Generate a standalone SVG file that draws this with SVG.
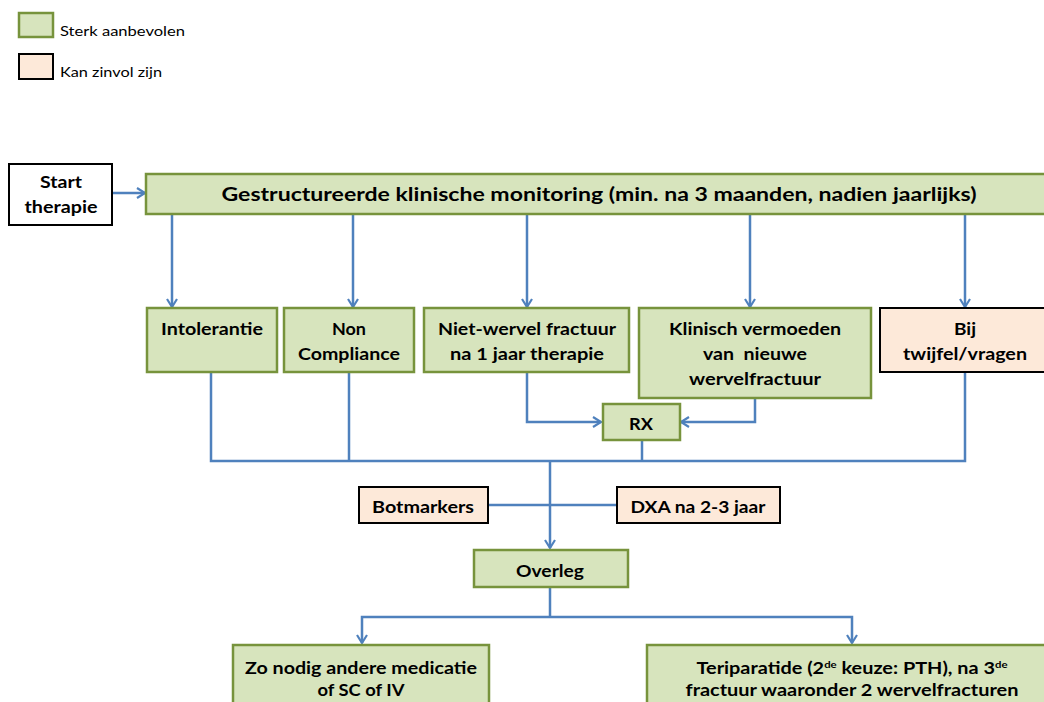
<svg xmlns="http://www.w3.org/2000/svg" width="1044" height="702" viewBox="0 0 1044 702">
<style>
.g{fill:#D7E4BD;stroke:#77933C;stroke-width:2.5}
.p{fill:#FDE9D9;stroke:#000;stroke-width:2}
.w{fill:#fff;stroke:#000;stroke-width:2}
.t{font-family:Lato,"Liberation Sans",sans-serif;font-weight:bold;font-size:17.5px;fill:#000;text-anchor:middle}
.l{font-family:Lato,"Liberation Sans",sans-serif;font-size:14px;fill:#000}
.c{fill:none;stroke:#4F81BD;stroke-width:2.5}
</style>
<defs>
<marker id="a" markerUnits="userSpaceOnUse" markerWidth="14" markerHeight="14" refX="9" refY="6" orient="auto">
<path d="M1,1 L9,6 L1,11" fill="none" stroke="#4F81BD" stroke-width="2.2"/>
</marker>
</defs>
<rect width="1044" height="702" fill="#fff"/>
<g id="legend">
<rect class="g" x="19" y="13" width="34" height="24"/>
<text class="l" x="60" y="36" textLength="125" lengthAdjust="spacingAndGlyphs">Sterk aanbevolen</text>
<rect class="p" x="19" y="54" width="34" height="25"/>
<text class="l" x="60" y="77" textLength="102" lengthAdjust="spacingAndGlyphs">Kan zinvol zijn</text>
</g>
<g id="connectors">
<path class="c" d="M112,193 H145" marker-end="url(#a)"/>
<path class="c" d="M172,214 V307" marker-end="url(#a)"/>
<path class="c" d="M353,214 V307" marker-end="url(#a)"/>
<path class="c" d="M527,214 V307" marker-end="url(#a)"/>
<path class="c" d="M750,214 V307" marker-end="url(#a)"/>
<path class="c" d="M965,214 V307" marker-end="url(#a)"/>
<path class="c" d="M527,372 V422 H601" marker-end="url(#a)"/>
<path class="c" d="M755,398 V422 H681" marker-end="url(#a)"/>
<path class="c" d="M211,372 V461 H965 V372"/>
<path class="c" d="M349,372 V461"/>
<path class="c" d="M642,440 V461"/>
<path class="c" d="M550,461 V548" marker-end="url(#a)"/>
<path class="c" d="M488,505 H617"/>
<path class="c" d="M550,587 V617"/>
<path class="c" d="M550,617 H362 V643" marker-end="url(#a)"/>
<path class="c" d="M550,617 H852 V643" marker-end="url(#a)"/>
</g>
<g id="start">
<rect class="w" x="9" y="164" width="103" height="61"/>
<text class="t" x="61" y="188" textLength="42" lengthAdjust="spacingAndGlyphs">Start</text>
<text class="t" x="61" y="213" textLength="73" lengthAdjust="spacingAndGlyphs">therapie</text>
</g>
<g id="monitoring">
<rect class="g" x="146" y="174" width="910" height="40"/>
<text class="t" x="599" y="201" style="font-size:19px" textLength="755" lengthAdjust="spacingAndGlyphs">Gestructureerde klinische monitoring (min. na 3 maanden, nadien jaarlijks)</text>
</g>
<g id="intolerantie">
<rect class="g" x="147" y="308" width="130" height="64"/>
<text class="t" x="212" y="335" textLength="102" lengthAdjust="spacingAndGlyphs">Intolerantie</text>
</g>
<g id="noncompliance">
<rect class="g" x="284" y="308" width="130" height="64"/>
<text class="t" x="349" y="335" textLength="34" lengthAdjust="spacingAndGlyphs">Non</text>
<text class="t" x="349" y="360" textLength="102" lengthAdjust="spacingAndGlyphs">Compliance</text>
</g>
<g id="nietwervel">
<rect class="g" x="424" y="308" width="205" height="64"/>
<text class="t" x="527" y="335" textLength="178" lengthAdjust="spacingAndGlyphs">Niet-wervel fractuur</text>
<text class="t" x="527" y="360" textLength="154" lengthAdjust="spacingAndGlyphs">na 1 jaar therapie</text>
</g>
<g id="klinisch">
<rect class="g" x="639" y="308" width="232" height="90"/>
<text class="t" x="755" y="335" textLength="172" lengthAdjust="spacingAndGlyphs">Klinisch vermoeden</text>
<text class="t" x="755" y="360" xml:space="preserve" textLength="104" lengthAdjust="spacingAndGlyphs">van  nieuwe</text>
<text class="t" x="755" y="385" textLength="132" lengthAdjust="spacingAndGlyphs">wervelfractuur</text>
</g>
<g id="bij">
<rect class="p" x="880" y="308" width="180" height="64"/>
<text class="t" x="965" y="335" textLength="22" lengthAdjust="spacingAndGlyphs">Bij</text>
<text class="t" x="965" y="360" textLength="124" lengthAdjust="spacingAndGlyphs">twijfel/vragen</text>
</g>
<g id="rx">
<rect class="g" x="603" y="404" width="77" height="36"/>
<text class="t" x="641" y="430" textLength="24" lengthAdjust="spacingAndGlyphs">RX</text>
</g>
<g id="botmarkers">
<rect class="p" x="359" y="487" width="129" height="36"/>
<text class="t" x="423" y="513" textLength="102" lengthAdjust="spacingAndGlyphs">Botmarkers</text>
</g>
<g id="dxa">
<rect class="p" x="617" y="487" width="163" height="36"/>
<text class="t" x="698" y="513" textLength="135" lengthAdjust="spacingAndGlyphs">DXA na 2-3 jaar</text>
</g>
<g id="overleg">
<rect class="g" x="474" y="550" width="154" height="37"/>
<text class="t" x="550" y="577" textLength="68" lengthAdjust="spacingAndGlyphs">Overleg</text>
</g>
<g id="andere">
<rect class="g" x="233" y="645" width="256" height="70"/>
<text class="t" x="361" y="674" textLength="232" lengthAdjust="spacingAndGlyphs">Zo nodig andere medicatie</text>
<text class="t" x="361" y="696" textLength="87" lengthAdjust="spacingAndGlyphs">of SC of IV</text>
</g>
<g id="teriparatide">
<rect class="g" x="647" y="645" width="420" height="70"/>
<text class="t" x="852" y="674" textLength="311" lengthAdjust="spacingAndGlyphs">Teriparatide (2<tspan dy="-6" style="font-size:10px">de</tspan><tspan dy="6"> keuze: PTH), na 3</tspan><tspan dy="-6" style="font-size:10px">de</tspan></text>
<text class="t" x="852" y="696" textLength="333" lengthAdjust="spacingAndGlyphs">fractuur waaronder 2 wervelfracturen</text>
</g>
</svg>
